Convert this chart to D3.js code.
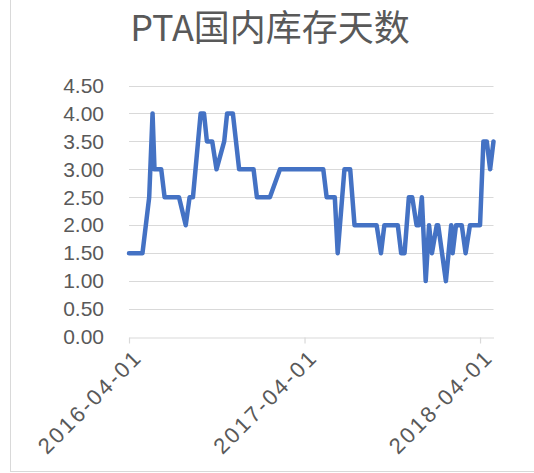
<!DOCTYPE html>
<html>
<head>
<meta charset="UTF-8" />
<title>PTA国内库存天数</title>
<script src="https://d3js.org/d3.v7.min.js"></script>
<style>
body {
	margin: 0;
	background: #fff;
}
.axis text {
	font-family: "Liberation Sans", sans-serif;
	font-size: 21px;
	fill: #595959;
}
.x.axis text {
	font-size: 22px;
	letter-spacing: 2.4px;
}
.title {
	font-family: "Noto Sans CJK SC", sans-serif;
	font-size: 36px;
	fill: #595959;
}
</style>
</head>
<body>
<div id="chart"></div>
<script>
// data (turning points of the line)
var dates = ['2016-04-01', '2016-04-29', '2016-05-13', '2016-05-20', '2016-05-24', '2016-06-07',
    '2016-06-14', '2016-07-14', '2016-07-28', '2016-08-05', '2016-08-12', '2016-08-28',
    '2016-09-04', '2016-09-10', '2016-09-21', '2016-09-30', '2016-10-16', '2016-10-22',
    '2016-11-03', '2016-11-16', '2016-12-16', '2016-12-23', '2017-01-19', '2017-02-09',
    '2017-05-10', '2017-05-17', '2017-06-03', '2017-06-09', '2017-06-23', '2017-07-05',
    '2017-07-14', '2017-08-29', '2017-09-07', '2017-09-14', '2017-10-12', '2017-10-19',
    '2017-10-26', '2017-11-04', '2017-11-11', '2017-11-20', '2017-11-25', '2017-12-01',
    '2017-12-09', '2017-12-16', '2017-12-22', '2018-01-01', '2018-01-04', '2018-01-20',
    '2018-01-31', '2018-02-03', '2018-02-10', '2018-02-22', '2018-03-02', '2018-03-11',
    '2018-04-01', '2018-04-08', '2018-04-15', '2018-04-22', '2018-04-29'];
var days = [1.5, 1.5, 2.5, 4.0, 3.0, 3.0,
    2.5, 2.5, 2.0, 2.5, 2.5, 4.0,
    4.0, 3.5, 3.5, 3.0, 3.5, 4.0,
    4.0, 3.0, 3.0, 2.5, 2.5, 3.0,
    3.0, 2.5, 2.5, 1.5, 3.0, 3.0,
    2.0, 2.0, 1.5, 2.0, 2.0, 1.5,
    1.5, 2.5, 2.5, 2.0, 2.0, 2.5,
    1.0, 2.0, 1.5, 2.0, 2.0, 1.0,
    2.0, 1.5, 2.0, 2.0, 1.5, 2.0,
    2.0, 3.5, 3.5, 3.0, 3.5];
var xTicks = ['2016-04-01', '2017-04-01', '2018-04-01'];
var yTicks = [0, 0.5, 1, 1.5, 2, 2.5, 3, 3.5, 4, 4.5];

var width = 534, height = 473;
var parse = d3.timeParse('%Y-%m-%d');
var data = dates.map(function(d, i) {
    return {date: parse(d), value: days[i]};
});

var svg = d3.select('#chart')
    .append('svg')
    .attr('width', width)
    .attr('height', height);

// chart frame (cut off at top and right like the source)
svg.append('rect')
    .attr('x', 10.5)
    .attr('y', -10)
    .attr('width', 600)
    .attr('height', 481.5)
    .attr('fill', 'none')
    .attr('stroke', '#d9d9d9');

var x = d3.scaleTime()
    .domain([parse('2016-04-01'), parse('2018-04-29')])
    .range([129, 493.5]);

var y = d3.scaleLinear()
    .domain([0, 4.5])
    .range([337, 85.5]);

// horizontal gridlines
svg.append('g')
    .selectAll('line')
    .data(yTicks.slice(1))
    .enter().append('line')
    .attr('x1', x.range()[0])
    .attr('x2', x.range()[1])
    .attr('y1', function(d) { return Math.round(y(d)) + 0.5; })
    .attr('y2', function(d) { return Math.round(y(d)) + 0.5; })
    .attr('stroke', '#d9d9d9')
    .attr('stroke-width', 1.2);

var yAxis = d3.axisLeft(y)
    .tickValues(yTicks)
    .tickSize(0)
    .tickPadding(25)
    .tickFormat(d3.format('.2f'));

svg.append('g')
    .attr('class', 'y axis')
    .attr('transform', 'translate(129,0)')
    .call(yAxis)
    .call(function(g) { g.select('.domain').remove(); });

var xAxis = d3.axisBottom(x)
    .tickValues(xTicks.map(parse))
    .tickSize(6)
    .tickSizeOuter(0)
    .tickFormat(d3.timeFormat('%Y-%m-%d'));

var gx = svg.append('g')
    .attr('class', 'x axis')
    .attr('transform', 'translate(0,' + (Math.round(y(0)) + 0.5) + ')')
    .call(xAxis);

gx.select('.domain').attr('stroke', '#d9d9d9').attr('stroke-width', 1.2);
gx.selectAll('.tick line').attr('stroke', '#d9d9d9').attr('stroke-width', 1.2);
gx.selectAll('.tick text')
    .style('text-anchor', 'end')
    .attr('dx', '-5px')
    .attr('dy', '16px')
    .attr('transform', 'rotate(-45)');

var line = d3.line()
    .x(function(d) { return x(d.date); })
    .y(function(d) { return y(d.value); });

svg.append('path')
    .datum(data)
    .attr('d', line)
    .attr('fill', 'none')
    .attr('stroke', '#4472c4')
    .attr('stroke-width', 4.5)
    .attr('stroke-linejoin', 'round')
    .attr('stroke-linecap', 'round');

svg.append('text')
    .attr('class', 'title')
    .attr('x', 270)
    .attr('y', 41)
    .attr('text-anchor', 'middle')
    .text('PTA国内库存天数');
</script>
</body>
</html>
